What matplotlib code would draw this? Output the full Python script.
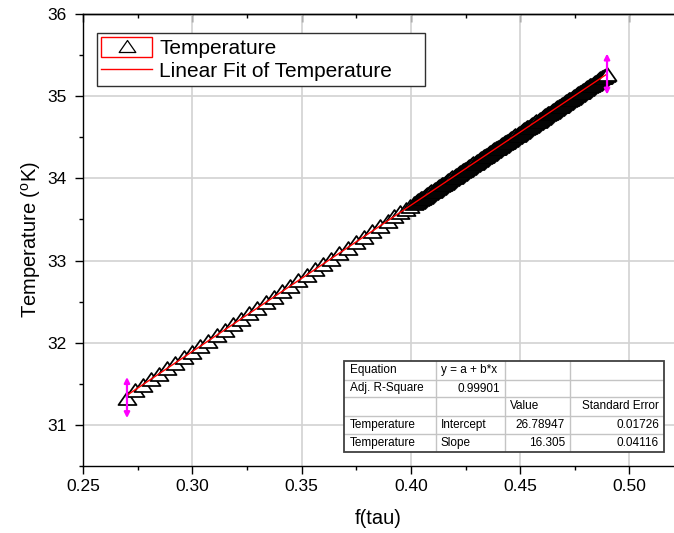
import numpy as np
import matplotlib
matplotlib.use("Agg")
import matplotlib.pyplot as plt
from matplotlib.path import Path
from matplotlib.lines import Line2D
from matplotlib.patches import Rectangle
from matplotlib.legend_handler import HandlerTuple
from matplotlib.ticker import MultipleLocator

plt.rcParams["font.family"] = ["Liberation Sans", "DejaVu Sans"]
plt.rcParams["mathtext.fontset"] = "custom"
plt.rcParams["mathtext.rm"] = "Liberation Sans"
plt.rcParams["mathtext.it"] = "Liberation Sans:italic"

# ---- data -------------------------------------------------------------
f_tau = [
    0.2700, 0.2735, 0.2772, 0.2810, 0.2848, 0.2885, 0.2922, 0.2960, 0.2998,
    0.3035, 0.3072, 0.3110, 0.3147, 0.3185, 0.3222, 0.3260, 0.3297, 0.3335,
    0.3372, 0.3410, 0.3447, 0.3485, 0.3522, 0.3560, 0.3597, 0.3635, 0.3672,
    0.3710, 0.3747, 0.3785, 0.3822, 0.3860, 0.3893, 0.3924, 0.3952, 0.3977,
    0.3998,
    0.4016, 0.4022, 0.4028, 0.4034, 0.4040, 0.4046, 0.4052, 0.4058, 0.4064, 0.4070,
    0.4076, 0.4082, 0.4088, 0.4094, 0.4100, 0.4106, 0.4112, 0.4118, 0.4124, 0.4130,
    0.4136, 0.4142, 0.4148, 0.4154, 0.4160, 0.4166, 0.4172, 0.4178, 0.4184, 0.4190,
    0.4196, 0.4202, 0.4208, 0.4214, 0.4220, 0.4226, 0.4232, 0.4238, 0.4244, 0.4250,
    0.4256, 0.4262, 0.4268, 0.4274, 0.4280, 0.4286, 0.4292, 0.4298, 0.4304, 0.4310,
    0.4316, 0.4322, 0.4328, 0.4334, 0.4340, 0.4346, 0.4352, 0.4358, 0.4364, 0.4370,
    0.4376, 0.4382, 0.4388, 0.4394, 0.4400, 0.4406, 0.4412, 0.4418, 0.4424, 0.4430,
    0.4436, 0.4442, 0.4448, 0.4454, 0.4460, 0.4466, 0.4472, 0.4478, 0.4484, 0.4490,
    0.4496, 0.4502, 0.4508, 0.4514, 0.4520, 0.4526, 0.4532, 0.4538, 0.4544, 0.4550,
    0.4556, 0.4562, 0.4568, 0.4574, 0.4580, 0.4586, 0.4592, 0.4598, 0.4604, 0.4610,
    0.4616, 0.4622, 0.4628, 0.4634, 0.4640, 0.4646, 0.4652, 0.4658, 0.4664, 0.4670,
    0.4676, 0.4682, 0.4688, 0.4694, 0.4700, 0.4706, 0.4712, 0.4718, 0.4724, 0.4730,
    0.4736, 0.4742, 0.4748, 0.4754, 0.4760, 0.4766, 0.4772, 0.4778, 0.4784, 0.4790,
    0.4796, 0.4802, 0.4808, 0.4814, 0.4820, 0.4826, 0.4832, 0.4838, 0.4844, 0.4850,
    0.4856, 0.4862, 0.4868, 0.4874, 0.4880, 0.4886, 0.4892, 0.4898,
]
temperature = [
    31.330, 31.422, 31.488, 31.556, 31.623, 31.689, 31.755, 31.823, 31.890,
    31.956, 32.022, 32.090, 32.156, 32.223, 32.289, 32.357, 32.423, 32.490,
    32.556, 32.624, 32.690, 32.757, 32.823, 32.891, 32.957, 33.024, 33.090,
    33.158, 33.224, 33.291, 33.357, 33.425, 33.484, 33.539, 33.589, 33.633,
    33.670,
    33.702, 33.713, 33.724, 33.735, 33.745, 33.756, 33.767, 33.777, 33.788, 33.799,
    33.809, 33.820, 33.831, 33.841, 33.852, 33.863, 33.873, 33.884, 33.895, 33.905,
    33.916, 33.927, 33.937, 33.948, 33.959, 33.969, 33.980, 33.991, 34.002, 34.012,
    34.023, 34.034, 34.044, 34.055, 34.066, 34.076, 34.087, 34.098, 34.108, 34.119,
    34.130, 34.140, 34.151, 34.162, 34.172, 34.183, 34.194, 34.204, 34.215, 34.226,
    34.236, 34.247, 34.258, 34.268, 34.279, 34.290, 34.300, 34.311, 34.322, 34.333,
    34.343, 34.354, 34.365, 34.375, 34.386, 34.397, 34.407, 34.418, 34.429, 34.439,
    34.450, 34.461, 34.471, 34.482, 34.493, 34.503, 34.514, 34.525, 34.535, 34.546,
    34.557, 34.567, 34.578, 34.589, 34.599, 34.610, 34.621, 34.631, 34.642, 34.653,
    34.664, 34.674, 34.685, 34.696, 34.706, 34.717, 34.728, 34.738, 34.749, 34.760,
    34.770, 34.781, 34.792, 34.802, 34.813, 34.824, 34.834, 34.845, 34.856, 34.866,
    34.877, 34.888, 34.898, 34.909, 34.920, 34.930, 34.941, 34.952, 34.962, 34.973,
    34.984, 34.995, 35.005, 35.016, 35.027, 35.037, 35.048, 35.059, 35.069, 35.080,
    35.091, 35.101, 35.112, 35.123, 35.133, 35.144, 35.155, 35.165, 35.176, 35.187,
    35.198, 35.208, 35.219, 35.230, 35.240, 35.251, 35.262, 35.272,
]

x_ticks = [0.25, 0.30, 0.35, 0.40, 0.45, 0.50]
x_tick_labels = ["0.25", "0.30", "0.35", "0.40", "0.45", "0.50"]
y_ticks = [31, 32, 33, 34, 35, 36]
y_tick_labels = ["31", "32", "33", "34", "35", "36"]

series_label = "Temperature"
fit_label = "Linear Fit of Temperature"

table_rows = [
    ["Equation", "y = a + b*x", "", ""],
    ["Adj. R-Square", "0.99901", "", ""],
    ["", "", "Value", "Standard Error"],
    ["Temperature", "Intercept", "26.78947", "0.01726"],
    ["Temperature", "Slope", "16.305", "0.04116"],
]

# ---- figure ------------------------------------------------------------
W, H = 674, 533
fig = plt.figure(figsize=(W / 100, H / 100), dpi=100)

ax_left, ax_top, ax_bottom = 83.3, 14.3, 465.7
ax = fig.add_axes([ax_left / W, 1 - ax_bottom / H, 1 - ax_left / W,
                   (ax_bottom - ax_top) / H])
ax.set_xlim(0.25, 0.25 + (W - ax_left) / 2184.0)
ax.set_ylim(30.5, 36)

ax.set_xticks(x_ticks)
ax.set_xticklabels(x_tick_labels)
ax.set_yticks(y_ticks)
ax.set_yticklabels(y_tick_labels)
ax.xaxis.set_minor_locator(MultipleLocator(0.025))
ax.yaxis.set_minor_locator(MultipleLocator(0.5))
ax.tick_params(axis="both", which="major", direction="out", length=5.8,
               width=1.0, labelsize=12.5, pad=4)
ax.tick_params(axis="both", which="minor", direction="out", length=2.9,
               width=1.0)
ax.tick_params(axis="y", which="major", pad=6)

for side in ("left", "bottom", "top"):
    ax.spines[side].set_linewidth(1.0)
ax.spines["right"].set_visible(False)

top = ax.secondary_xaxis("top")
top.set_xticks(x_ticks)
top.xaxis.set_minor_locator(MultipleLocator(0.025))
top.tick_params(axis="x", which="major", direction="in", length=5.8,
                width=1.0, labeltop=False, color="black")
top.tick_params(axis="x", which="minor", direction="in", length=2.9,
                width=1.0, color="black")
top.spines["top"].set_linewidth(1.0)

ax.grid(True, which="major", color="#d2d2d2", linewidth=1.2)
ax.set_axisbelow(True)

# open triangle marker, wider than tall
tri = Path([(0, 0.72), (-1, -0.72), (1, -0.72), (0, 0.72)],
           [Path.MOVETO, Path.LINETO, Path.LINETO, Path.CLOSEPOLY])

ax.plot(f_tau, temperature, linestyle="none", marker=tri, markersize=13,
        markerfacecolor="white", markeredgecolor="black",
        markeredgewidth=1.25, zorder=3)

coef = np.polyfit(f_tau, temperature, 1)
fit_x = np.array([min(f_tau), max(f_tau)])
ax.plot(fit_x, np.polyval(coef, fit_x), color="red", linewidth=1.0, zorder=4)

# end-point markers
for xi, yi in ((f_tau[0], temperature[0]), (f_tau[-1], temperature[-1])):
    ax.annotate("", xy=(xi, yi + 0.25), xytext=(xi, yi - 0.25),
                arrowprops=dict(arrowstyle="<|-|>", color="#ff00ff", lw=1.6,
                                mutation_scale=8, shrinkA=0, shrinkB=0),
                zorder=5)

ax.set_xlabel("f(tau)", fontsize=14.5)
ax.set_ylabel(r"Temperature ($^{\mathrm{o}}$K)", fontsize=14.5)
ax.xaxis.set_label_coords(0.5, -0.096)
ax.yaxis.set_label_coords(-0.068, 0.5)

# ---- legend ------------------------------------------------------------
marker_handle = Line2D([], [], linestyle="none", marker=tri, markersize=12,
                       markerfacecolor="white", markeredgecolor="black",
                       markeredgewidth=0.9)
box_handle = Rectangle((0, 0), 1, 1, facecolor="none", edgecolor="red",
                       linewidth=1.0)
line_handle = Line2D([], [], color="red", linewidth=1.0)
leg = ax.legend([(box_handle, marker_handle), line_handle],
                [series_label, fit_label],
                handler_map={tuple: HandlerTuple(ndivide=1)},
                loc="upper left", mode="expand",
                bbox_to_anchor=(97 / W, 1 - 86.7 / H, (425 - 97) / W,
                                (86.7 - 33) / H),
                bbox_transform=fig.transFigure, borderaxespad=0,
                fontsize=15, handlelength=2.45, handleheight=1.1,
                handletextpad=0.34, labelspacing=0.1, borderpad=0.2,
                fancybox=False, framealpha=1, edgecolor="#303030")
leg.get_frame().set_linewidth(1.0)

# ---- fit summary table -------------------------------------------------
t_left, t_top, t_right, t_bottom = 344, 360.7, 664, 451.7
tax = fig.add_axes([t_left / W, 1 - t_bottom / H, (t_right - t_left) / W,
                    (t_bottom - t_top) / H])
tw, th = t_right - t_left, t_bottom - t_top
tax.set_xlim(0, tw)
tax.set_ylim(th, 0)
tax.axis("off")
tax.add_patch(Rectangle((0, 0), tw, th, facecolor="white", edgecolor="none",
                        zorder=0))
col_edges = [0, 91.7, 161, 226, tw]
row_edges = [0, 19.3, 36.3, 55, 73.3, th]
for cx in col_edges[1:-1]:
    tax.plot([cx, cx], [0, th], color="#c4c4c4", linewidth=1.0, zorder=1)
for ry in row_edges[1:-1]:
    tax.plot([0, tw], [ry, ry], color="#c4c4c4", linewidth=1.0, zorder=1)
tax.add_patch(Rectangle((0, 0), tw, th, facecolor="none", edgecolor="#404040",
                        linewidth=1.3, zorder=2, clip_on=False))

align = [
    ["left", "left", "left", "left"],
    ["left", "right", "left", "left"],
    ["left", "left", "left", "right"],
    ["left", "left", "right", "right"],
    ["left", "left", "right", "right"],
]
for r, row in enumerate(table_rows):
    yc = (row_edges[r] + row_edges[r + 1]) / 2
    for c, txt in enumerate(row):
        if not txt:
            continue
        ha = align[r][c]
        if ha == "left":
            xt = col_edges[c] + (6 if c == 0 else 5)
        else:
            xt = col_edges[c + 1] - 5
        tax.text(xt, yc, txt, ha=ha, va="center", fontsize=8.5,
                 color="black", zorder=3)

fig.savefig("out.png", dpi=100)
